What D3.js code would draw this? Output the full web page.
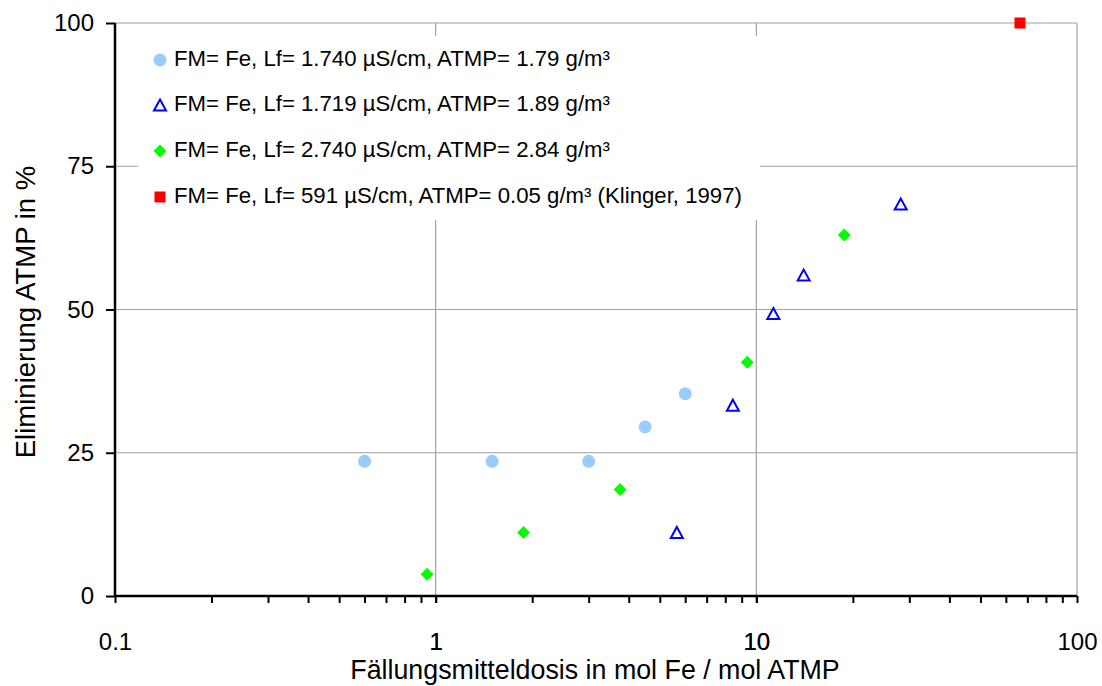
<!DOCTYPE html>
<html><head><meta charset="utf-8">
<script src="https://cdn.jsdelivr.net/npm/d3@7"></script>
<style>body{margin:0;background:#fff;}svg{display:block;font-family:"Liberation Sans",Arial,sans-serif;}</style>
</head><body><svg id="c" width="1102" height="686"></svg>
<script>
const seriesNames = [
  "FM= Fe, Lf= 1.740 µS/cm, ATMP= 1.79 g/m³",
  "FM= Fe, Lf= 1.719 µS/cm, ATMP= 1.89 g/m³",
  "FM= Fe, Lf= 2.740 µS/cm, ATMP= 2.84 g/m³",
  "FM= Fe, Lf= 591 µS/cm, ATMP= 0.05 g/m³ (Klinger, 1997)"
];
const s1x = [0.6, 1.5, 3.0, 4.5, 6.0];
const s1y = [23.5, 23.5, 23.5, 29.5, 35.3];
const s2x = [5.65, 8.45, 11.3, 14.05, 28.2];
const s2y = [11.1, 33.3, 49.3, 56.0, 68.4];
const s3x = [0.94, 1.88, 3.76, 9.37, 18.8];
const s3y = [3.8, 11.1, 18.6, 40.8, 63.0];
const s4x = [66.4];
const s4y = [100];
const xTicks = [0.1, 1, 10, 100];
const xTickLabels = ["0.1", "1", "10", "100"];
const yTicks = [0, 25, 50, 75, 100];
const xTitle = "Fällungsmitteldosis in mol Fe / mol ATMP";
const yTitle = "Eliminierung ATMP in %";

const svg = d3.select("#c");
const L = 115, R = 1077, T = 23, B = 596;
const x = d3.scaleLog().domain([0.1, 100]).range([L, R]);
const y = d3.scaleLinear().domain([0, 100]).range([B, T]);

// gridlines
const grid = svg.append("g").attr("stroke", "#a0a0a0").attr("stroke-width", 1.2);
xTicks.forEach(v => grid.append("line").attr("x1", x(v)).attr("x2", x(v)).attr("y1", T).attr("y2", B));
yTicks.forEach(v => grid.append("line").attr("x1", L).attr("x2", R).attr("y1", y(v)).attr("y2", y(v)));

// legend background (covers gridlines)
svg.append("rect").attr("x", 138).attr("y", 36).attr("width", 622).attr("height", 184).attr("fill", "#fff");

// axes
const minor = [];
for (let e = -1; e < 2; e++) for (let m = 1; m <= 10; m++) minor.push(m * Math.pow(10, e));
const xAxis = d3.axisBottom(x).tickValues(minor).tickSize(7).tickFormat(d => {
  const i = xTicks.findIndex(t => Math.abs(t - d) / t < 1e-6);
  return i >= 0 ? xTickLabels[i] : "";
});
const gx = svg.append("g").attr("transform", `translate(0,${B})`).call(xAxis);
const yAxis = d3.axisLeft(y).tickValues(yTicks).tickSize(9).tickPadding(12);
const gy = svg.append("g").attr("transform", `translate(${L},0)`).call(yAxis);
[gx, gy].forEach(g => {
  g.select(".domain").attr("stroke", "#000").attr("stroke-width", 2.5);
  g.selectAll(".tick line").attr("stroke", "#000").attr("stroke-width", 2);
  g.selectAll("text").attr("font-size", 24).attr("fill", "#000").attr("font-family", "Liberation Sans, Arial, sans-serif");
});
gx.selectAll("text").attr("dy", null).attr("y", 48).attr("dominant-baseline", "middle");
gx.select(".domain").attr("d", `M${L},0H${R}`);
gy.select(".domain").attr("d", `M0,${B}V${T}`);

// titles
svg.append("text").attr("x", 595).attr("y", 672).attr("text-anchor", "middle").attr("dominant-baseline", "middle")
  .attr("font-size", 26.8).text(xTitle);
svg.append("text").attr("transform", `translate(28,312) rotate(-90)`).attr("text-anchor", "middle").attr("dominant-baseline", "middle")
  .attr("font-size", 27.5).text(yTitle);

// markers
function marker(g, type, cx, cy) {
  if (type === 0) g.append("circle").attr("cx", cx).attr("cy", cy).attr("r", 6.5).attr("fill", "#99ccff");
  else if (type === 1) g.append("path").attr("d", `M${cx},${cy - 5.5}L${cx + 6},${cy + 5.5}L${cx - 6},${cy + 5.5}Z`)
    .attr("fill", "#fff").attr("stroke", "#0000ff").attr("stroke-width", 2);
  else if (type === 2) g.append("path").attr("d", `M${cx},${cy - 6.5}L${cx + 6.5},${cy}L${cx},${cy + 6.5}L${cx - 6.5},${cy}Z`).attr("fill", "#00ff00");
  else g.append("rect").attr("x", cx - 5.5).attr("y", cy - 5.5).attr("width", 11).attr("height", 11).attr("fill", "#ff0000");
}
const series = [[s1x, s1y], [s2x, s2y], [s3x, s3y], [s4x, s4y]];
const pts = svg.append("g");
series.forEach((s, k) => s[0].forEach((v, i) => marker(pts, k, x(v), y(s[1][i]))));

// legend
const leg = svg.append("g");
const rowY = [60, 105, 151, 197];
seriesNames.forEach((n, k) => {
  marker(leg, k, 160, rowY[k]);
  leg.append("text").attr("x", 174).attr("y", rowY[k]).attr("dominant-baseline", "middle").attr("font-size", 22.2).text(n);
});
</script></body></html>
